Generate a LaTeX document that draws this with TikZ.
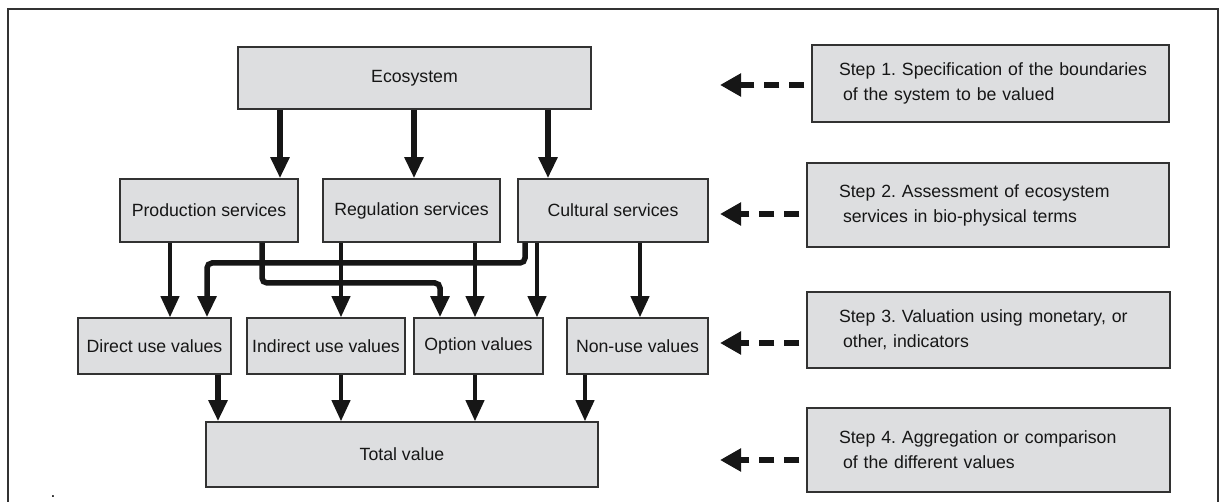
\documentclass[tikz,border=0pt]{standalone}
\usepackage{fontspec}
\setmainfont{Liberation Sans}
\usetikzlibrary{arrows.meta}
\definecolor{boxfill}{RGB}{221,222,224}
\definecolor{boxline}{RGB}{50,50,50}
\definecolor{ink}{RGB}{22,22,22}
\frenchspacing
\begin{document}
\begin{tikzpicture}[x=1pt,y=-1pt,
  every node/.style={font=\fontsize{17.7}{25}\selectfont, text=ink},
  box/.style n args={2}{draw=boxline, fill=boxfill, line width=1.5pt,
    inner sep=0pt, minimum width=#1, minimum height=#2},
  flow/.style={draw=ink, line width=4pt, -{Triangle[length=21pt,width=18pt]}},
  heavy/.style={flow, line width=5.5pt},
  link/.style={draw=ink, line width=6pt, dash pattern=on 15pt off 10pt,
    shorten <=7pt, -{Triangle[length=21pt,width=22pt]}}]
\useasboundingbox (0,0) rectangle (1221,502);

% outer frame (open at the bottom)
\draw[line width=2pt, draw=boxline] (8,502) -- (8,9) -- (1218,9) -- (1218,502);

% value chain
\node[box={353pt}{62pt}] (eco) at (414.5,78) {Ecosystem};
\node[box={178pt}{63pt}] (prod) at (209,210.5) {Production services};
\node[box={177pt}{63pt}] (reg) at (411.5,210.5) {Regulation services};
\node[box={190pt}{63pt}] (cult) at (613,210.5) {Cultural services};
\node[box={153pt}{56pt}] (direct) at (154.5,346) {Direct use values};
\node[box={158pt}{56pt}] (indirect) at (326,346) {Indirect use values};
\node[box={129pt}{56pt}] (option) at (478.5,346) {Option values};
\node[box={141pt}{56pt}] (nonuse) at (637.5,346) {Non-use values};
\node[box={392pt}{65pt}] (total) at (402,454.5) {Total value};

% the four steps
\node[box={357pt}{77pt}, align=left, text width=349pt, inner xsep=4pt] (s1) at (990.5,83.5)
  {\hspace*{23pt}Step 1. Specification of the boundaries\\\hspace*{27pt}of the system to be valued};
\node[box={362pt}{84pt}, align=left, text width=354pt, inner xsep=4pt] (s2) at (988,205)
  {\hspace*{28pt}Step 2. Assessment of ecosystem\\\hspace*{32pt}services in bio-physical terms};
\node[box={363pt}{76pt}, align=left, text width=355pt, inner xsep=4pt] (s3) at (988.5,330)
  {\hspace*{28pt}Step 3. Valuation using monetary, or\\\hspace*{32pt}other, indicators};
\node[box={363pt}{84pt}, align=left, text width=355pt, inner xsep=4pt] (s4) at (988.5,450)
  {\hspace*{28pt}Step 4. Aggregation or comparison\\\hspace*{32pt}of the different values};

\node[anchor=base] (speck) at (53,497) {.};

% connector columns and bends
\coordinate (ecoP) at (280,0);
\coordinate (ecoR) at (414,0);
\coordinate (ecoC) at (548,0);
\coordinate (pD) at (170,0);
\coordinate (rI) at (341,0);
\coordinate (rO) at (475,0);
\coordinate (cO) at (537,0);
\coordinate (cN) at (640,0);
\coordinate (dT) at (218,0);
\coordinate (iT) at (341,0);
\coordinate (oT) at (475,0);
\coordinate (nT) at (585,0);
\coordinate (k1) at (525,263);
\coordinate (k2) at (207,263);
\coordinate (k3) at (262,283);
\coordinate (k4) at (440,283);
\coordinate (t1) at (720,85);
\coordinate (t2) at (720,214);
\coordinate (t3) at (720,343);
\coordinate (t4) at (720,460);

% ecosystem to services
\draw[heavy] (eco.south -| ecoP) -- (prod.north -| ecoP);
\draw[heavy] (eco.south -| ecoR) -- (reg.north -| ecoR);
\draw[heavy] (eco.south -| ecoC) -- (cult.north -| ecoC);

% services to values
\draw[heavy, rounded corners=5pt] (cult.south -| k1) -- (k1) -- (k2) -- (direct.north -| k2);
\draw[heavy, rounded corners=5pt] (prod.south -| k3) -- (k3) -- (k4) -- (option.north -| k4);
\draw[flow] (prod.south -| pD) -- (direct.north -| pD);
\draw[flow] (reg.south -| rI) -- (indirect.north -| rI);
\draw[flow] (reg.south -| rO) -- (option.north -| rO);
\draw[flow] (cult.south -| cO) -- (option.north -| cO);
\draw[flow] (cult.south -| cN) -- (nonuse.north -| cN);

% values to total
\draw[heavy] (direct.south -| dT) -- (total.north -| dT);
\draw[flow] (indirect.south -| iT) -- (total.north -| iT);
\draw[flow] (option.south -| oT) -- (total.north -| oT);
\draw[flow] (nonuse.south -| nT) -- (total.north -| nT);

% steps pointing at their level
\draw[link] (s1.west |- t1) -- (t1);
\draw[link] (s2.west |- t2) -- (t2);
\draw[link] (s3.west |- t3) -- (t3);
\draw[link] (s4.west |- t4) -- (t4);
\end{tikzpicture}
\end{document}
